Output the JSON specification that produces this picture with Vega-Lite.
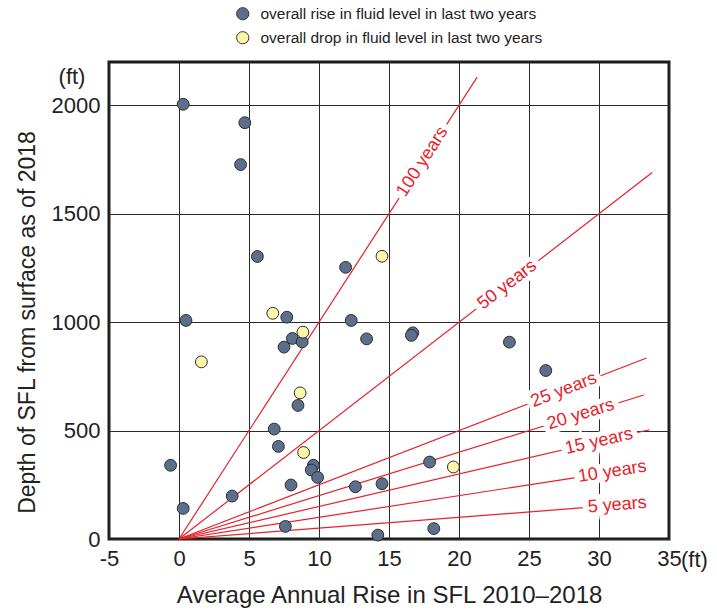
{
  "$schema": "https://vega.github.io/schema/vega-lite/v6.json",
  "width": 560,
  "height": 477,
  "autosize": {"type": "none"},
  "padding": {"left": 109, "top": 62, "right": 48, "bottom": 71},
  "background": "white",
  "config": {
    "font": "Liberation Sans",
    "view": {"stroke": "#1a1a1a", "strokeWidth": 3},
    "axis": {
      "domain": false,
      "ticks": false,
      "grid": true,
      "gridColor": "#2a2a2a",
      "gridWidth": 1,
      "labelFont": "Liberation Sans",
      "labelFontSize": 22,
      "labelColor": "#222222",
      "labelFlush": false,
      "titleFont": "Liberation Sans",
      "titleFontSize": 23,
      "titleFontWeight": "normal",
      "titleColor": "#222222"
    },
    "legend": {
      "orient": "none",
      "legendX": 126,
      "legendY": -56,
      "title": null,
      "labelFont": "Liberation Sans",
      "labelFontSize": 15.5,
      "labelColor": "#222222",
      "labelLimit": 0,
      "symbolType": "circle",
      "symbolSize": 150,
      "symbolStrokeColor": "#333333",
      "symbolStrokeWidth": 1,
      "rowPadding": 6,
      "labelOffset": 10
    }
  },
  "datasets": {
    "wells": [
      {"rise": 0.3, "depth": 2005, "trend": "overall rise in fluid level in last two years"},
      {"rise": 4.7, "depth": 1920, "trend": "overall rise in fluid level in last two years"},
      {"rise": 4.4, "depth": 1727, "trend": "overall rise in fluid level in last two years"},
      {"rise": 5.6, "depth": 1303, "trend": "overall rise in fluid level in last two years"},
      {"rise": 11.9, "depth": 1253, "trend": "overall rise in fluid level in last two years"},
      {"rise": 0.5, "depth": 1008, "trend": "overall rise in fluid level in last two years"},
      {"rise": 7.7, "depth": 1023, "trend": "overall rise in fluid level in last two years"},
      {"rise": 12.3, "depth": 1008, "trend": "overall rise in fluid level in last two years"},
      {"rise": 8.1, "depth": 925, "trend": "overall rise in fluid level in last two years"},
      {"rise": 8.8, "depth": 909, "trend": "overall rise in fluid level in last two years"},
      {"rise": 7.5, "depth": 885, "trend": "overall rise in fluid level in last two years"},
      {"rise": 13.4, "depth": 923, "trend": "overall rise in fluid level in last two years"},
      {"rise": 16.7, "depth": 951, "trend": "overall rise in fluid level in last two years"},
      {"rise": 16.6, "depth": 939, "trend": "overall rise in fluid level in last two years"},
      {"rise": 23.6, "depth": 908, "trend": "overall rise in fluid level in last two years"},
      {"rise": 26.2, "depth": 777, "trend": "overall rise in fluid level in last two years"},
      {"rise": 8.5, "depth": 616, "trend": "overall rise in fluid level in last two years"},
      {"rise": 6.8, "depth": 507, "trend": "overall rise in fluid level in last two years"},
      {"rise": 7.1, "depth": 427, "trend": "overall rise in fluid level in last two years"},
      {"rise": 9.6, "depth": 340, "trend": "overall rise in fluid level in last two years"},
      {"rise": 9.45, "depth": 318, "trend": "overall rise in fluid level in last two years"},
      {"rise": 9.9, "depth": 284, "trend": "overall rise in fluid level in last two years"},
      {"rise": -0.6, "depth": 340, "trend": "overall rise in fluid level in last two years"},
      {"rise": 3.8, "depth": 198, "trend": "overall rise in fluid level in last two years"},
      {"rise": 8.0, "depth": 249, "trend": "overall rise in fluid level in last two years"},
      {"rise": 12.6, "depth": 241, "trend": "overall rise in fluid level in last two years"},
      {"rise": 14.5, "depth": 255, "trend": "overall rise in fluid level in last two years"},
      {"rise": 17.9, "depth": 355, "trend": "overall rise in fluid level in last two years"},
      {"rise": 0.3, "depth": 141, "trend": "overall rise in fluid level in last two years"},
      {"rise": 7.6, "depth": 58, "trend": "overall rise in fluid level in last two years"},
      {"rise": 14.2, "depth": 18, "trend": "overall rise in fluid level in last two years"},
      {"rise": 18.2, "depth": 48, "trend": "overall rise in fluid level in last two years"},
      {"rise": 14.5, "depth": 1304, "trend": "overall drop in fluid level in last two years"},
      {"rise": 6.7, "depth": 1041, "trend": "overall drop in fluid level in last two years"},
      {"rise": 8.85, "depth": 954, "trend": "overall drop in fluid level in last two years"},
      {"rise": 1.6, "depth": 817, "trend": "overall drop in fluid level in last two years"},
      {"rise": 8.65, "depth": 674, "trend": "overall drop in fluid level in last two years"},
      {"rise": 8.9, "depth": 399, "trend": "overall drop in fluid level in last two years"},
      {"rise": 19.6, "depth": 332, "trend": "overall drop in fluid level in last two years"}
    ],
    "horizons": [
      {"years": 100, "rise": 0, "depth": 0},
      {"years": 100, "rise": 21.3, "depth": 2130},
      {"years": 50, "rise": 0, "depth": 0},
      {"years": 50, "rise": 33.8, "depth": 1690},
      {"years": 25, "rise": 0, "depth": 0},
      {"years": 25, "rise": 33.4, "depth": 835},
      {"years": 20, "rise": 0, "depth": 0},
      {"years": 20, "rise": 33.2, "depth": 664},
      {"years": 15, "rise": 0, "depth": 0},
      {"years": 15, "rise": 33.6, "depth": 504},
      {"years": 10, "rise": 0, "depth": 0},
      {"years": 10, "rise": 31, "depth": 310},
      {"years": 5, "rise": 0, "depth": 0},
      {"years": 5, "rise": 31, "depth": 155}
    ],
    "horizonLabels": [
      {"years": 100, "label": "100 years", "rise": 17.4, "depth": 1740},
      {"years": 50, "label": "50 years", "rise": 23.45, "depth": 1172},
      {"years": 25, "label": "25 years", "rise": 27.5, "depth": 687},
      {"years": 20, "label": "20 years", "rise": 28.7, "depth": 574},
      {"years": 15, "label": "15 years", "rise": 30.0, "depth": 450},
      {"years": 10, "label": "10 years", "rise": 30.95, "depth": 310},
      {"years": 5, "label": "5 years", "rise": 31.3, "depth": 156}
    ],
    "units": [
      {"rise": 35, "depth": 0, "label": "(ft)", "axis": "x"},
      {"rise": -5, "depth": 2000, "label": "(ft)", "axis": "y"}
    ]
  },
  "encoding": {
    "x": {
      "field": "rise",
      "type": "quantitative",
      "scale": {"domain": [-5, 35], "nice": false, "zero": false},
      "axis": {
        "values": [-5, 0, 5, 10, 15, 20, 25, 30, 35],
        "labelExpr": "'' + datum.value",
        "labelPadding": 9,
        "title": "Average Annual Rise in SFL 2010–2018",
        "titleFontSize": 24,
        "titleY": 63,
        "titleBaseline": "alphabetic"
      }
    },
    "y": {
      "field": "depth",
      "type": "quantitative",
      "scale": {"domain": [0, 2200], "nice": false, "zero": true},
      "axis": {
        "values": [0, 500, 1000, 1500, 2000],
        "labelExpr": "'' + datum.value",
        "labelPadding": 9,
        "title": "Depth of SFL from surface as of 2018",
        "titleAngle": 270,
        "titleX": -82,
        "titleY": 260,
        "titleAlign": "center",
        "titleBaseline": "middle"
      }
    }
  },
  "layer": [
    {
      "data": {"name": "horizons"},
      "mark": {"type": "line", "color": "#e8202a", "strokeWidth": 1.2},
      "encoding": {"detail": {"field": "years"}}
    },
    {
      "data": {"name": "horizonLabels"},
      "mark": {"type": "text", "fontSize": 18, "align": "center", "baseline": "middle", "color": "white", "stroke": "white", "strokeWidth": 10},
      "encoding": {
        "text": {"field": "label"},
        "angle": {
          "field": "years",
          "type": "quantitative",
          "scale": {"domain": [5, 10, 15, 20, 25, 50, 100], "range": [-4.43, -8.8, -13.08, -17.21, -21.16, -37.75, -57.14]},
          "legend": null
        }
      }
    },
    {
      "data": {"name": "horizonLabels"},
      "mark": {"type": "text", "fontSize": 18, "align": "center", "baseline": "middle", "color": "#e8202a"},
      "encoding": {
        "text": {"field": "label"},
        "angle": {
          "field": "years",
          "type": "quantitative",
          "scale": {"domain": [5, 10, 15, 20, 25, 50, 100], "range": [-4.43, -8.8, -13.08, -17.21, -21.16, -37.75, -57.14]},
          "legend": null
        }
      }
    },
    {
      "data": {"name": "wells"},
      "mark": {"type": "point", "filled": true, "shape": "circle", "size": 140, "stroke": "#2e2e2e", "strokeWidth": 1, "opacity": 1},
      "encoding": {
        "color": {
          "field": "trend",
          "type": "nominal",
          "scale": {
            "domain": ["overall rise in fluid level in last two years", "overall drop in fluid level in last two years"],
            "range": ["#5b6e8b", "#fdf5a8"]
          }
        }
      }
    },
    {
      "data": {"name": "units"},
      "transform": [{"filter": "datum.axis == 'x'"}],
      "mark": {"type": "text", "fontSize": 22, "color": "#222222", "align": "left", "baseline": "middle", "dx": 12, "dy": 21},
      "encoding": {"text": {"field": "label"}}
    },
    {
      "data": {"name": "units"},
      "transform": [{"filter": "datum.axis == 'y'"}],
      "mark": {"type": "text", "fontSize": 22, "color": "#222222", "align": "center", "baseline": "middle", "dx": -37, "dy": -28},
      "encoding": {"text": {"field": "label"}}
    }
  ]
}
